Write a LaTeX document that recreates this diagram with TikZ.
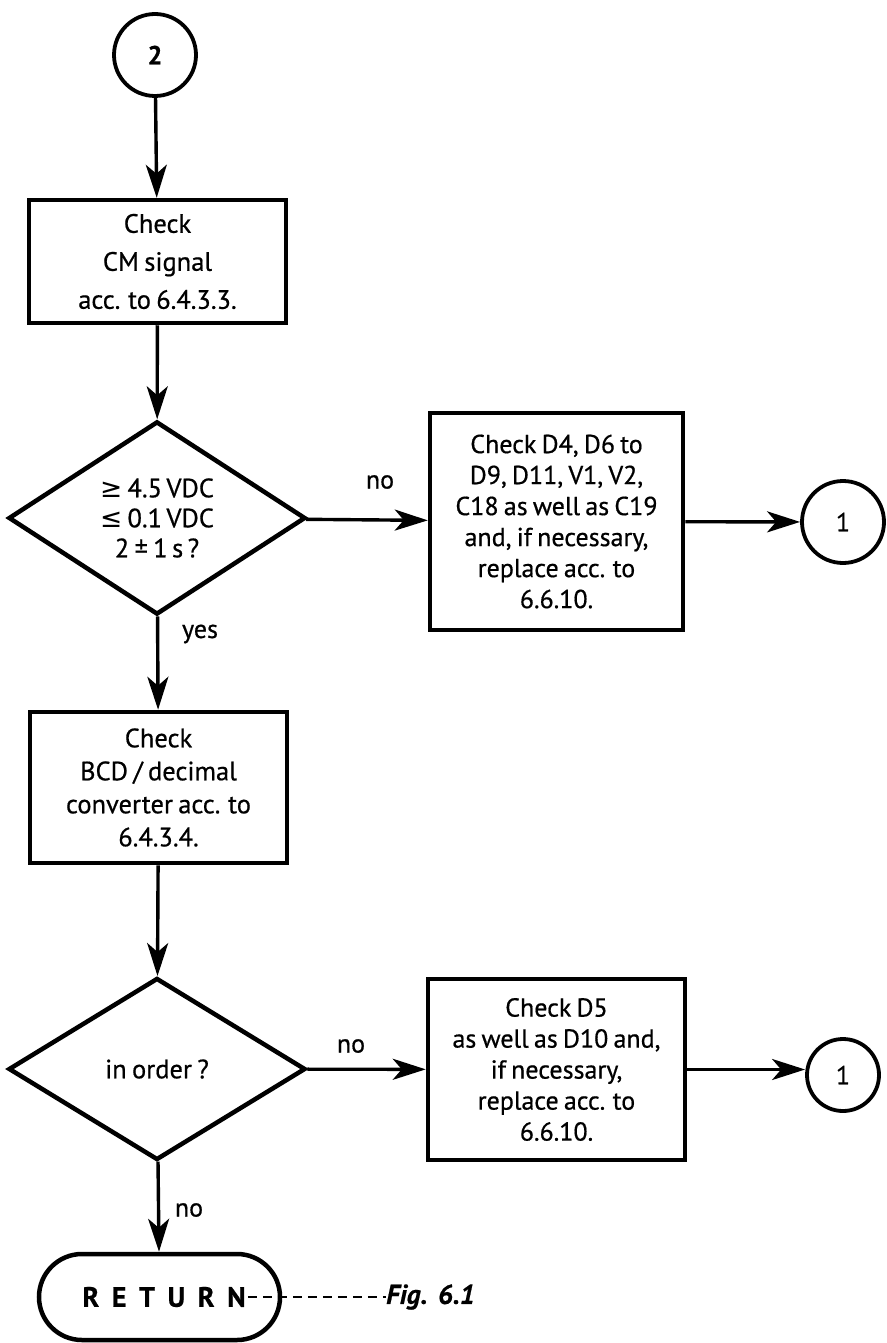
\documentclass[tikz,border=0pt]{standalone}
\usepackage{fontspec}
\setmainfont{PT Sans}[FakeBold=0.6, WordSpace=0.75]
\newfontfamily\symfont{DejaVu Sans}
\usetikzlibrary{arrows.meta,shapes.geometric}

\tikzset{
  flow/.style={line width=3.4pt, -{Stealth[length=33pt,width=21pt,inset=9pt]}},
  procbox/.style={draw, line width=4.5pt, rectangle, inner sep=0pt, align=center,
                  font=\fontsize{26}{31}\selectfont},
  decision/.style={draw, line width=4.5pt, diamond, inner sep=0pt, align=center,
                   font=\fontsize{26.5}{30}\selectfont},
  connector/.style={draw, line width=3.8pt, circle, inner sep=0pt,
                    font=\fontsize{26}{30}\selectfont},
  terminal/.style={draw, line width=4.5pt, rectangle, rounded corners=43pt, inner sep=0pt},
  lbl/.style={font=\fontsize{26}{30}\selectfont, inner sep=0pt},
}

\begin{document}
\begin{tikzpicture}[x=1pt,y=-1pt]
\useasboundingbox (0,0) rectangle (886,1343);

% connectors and process steps
\node[connector, minimum size=82pt] (c2) at (155,55) {\textbf{2}};

\node[procbox, minimum width=257pt, minimum height=123pt,
      font=\fontsize{26.5}{38}\selectfont] (b1) at (157.5,261.5)
  {Check\\CM signal\\acc. to 6.4.3.3.};

\node[decision, minimum width=297pt, minimum height=170pt] (d1) at (157,518)
  {{\symfont\char"2265}\ 4.5\,VDC\\{\symfont\char"2264}\ 0.1\,VDC\\2 \textpm\ 1\,s\,?};

\node[procbox, minimum width=253pt, minimum height=217pt] (b2) at (556.5,521.5)
  {Check D4, D6 to\\D9, D11, V1, V2,\\C18 as well as C19\\and, if necessary,\\replace acc. to\\6.6.10.};

\node[connector, minimum size=82pt] (c1a) at (843,522) {1};

\node[procbox, minimum width=257pt, minimum height=151pt,
      font=\fontsize{26.5}{33}\selectfont] (b3) at (158.5,787.5)
  {Check\\BCD / decimal\\converter acc. to\\6.4.3.4.};

\node[decision, minimum width=297pt, minimum height=182pt] (d2) at (157,1069)
  {in order ?};

\node[procbox, minimum width=257pt, minimum height=181pt] (b4) at (556.5,1069.5)
  {Check D5\\as well as D10 and,\\if necessary,\\replace acc. to\\6.6.10.};

\node[connector, minimum size=72pt] (c1b) at (843,1075) {1};

% return terminal with its figure reference
\node[terminal, minimum width=241pt, minimum height=86pt] (ret) at (159.5,1297) {};
\node[lbl, font=\fontsize{28}{30}\selectfont\bfseries\addfontfeature{LetterSpace=45}]
  (rettxt) at (164,1297) {RETURN};
\node[lbl, anchor=west, font=\fontsize{27.5}{30}\selectfont\bfseries\itshape]
  (fig) at (386,1297) {Fig.\ \ 6.1};
\draw[line width=1.8pt, dash pattern=on 9pt off 6pt] (rettxt.east) ++(2,0) coordinate (dashstart)
  (dashstart) -- (fig.west);

% flow lines
\draw[flow] (c2) -- (b1);
\draw[flow] (b1) -- (d1);
\draw[flow] (d1) -- (b2);
\draw[flow] (b2) -- (c1a);
\draw[flow] (d1) -- (b3);
\draw[flow] (b3) -- (d2);
\draw[flow] (d2) -- (b4);
\draw[flow] (b4.east) -- (c1b.west |- b4.east);
\draw[flow] (d2) -- (ret);

% branch labels
\node[lbl] (no1) at (380,482) {no};
\node[lbl] (yes1) at (200,634) {yes};
\node[lbl] (no2) at (351,1046) {no};
\node[lbl] (no3) at (189,1210) {no};
\end{tikzpicture}
\end{document}
